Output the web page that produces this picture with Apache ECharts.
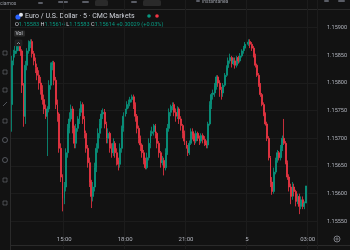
<!DOCTYPE html>
<html><head><meta charset="utf-8">
<script src="https://cdn.jsdelivr.net/npm/echarts@6/dist/echarts.min.js"></script>
<style>html,body{margin:0;padding:0;background:#121212;}#c{width:350px;height:250px;}</style>
</head><body><div id="c"></div>
<script>
const opens = [
1.15761,1.15840,1.15853,1.15858,1.15867,1.15870,1.15858,1.15796,1.15740,1.15832,
1.15858,1.15870,1.15875,1.15853,1.15840,1.15828,1.15814,1.15800,1.15788,1.15770,
1.15753,1.15740,1.15753,1.15796,1.15832,1.15837,1.15805,1.15761,1.15744,1.15682,
1.15630,1.15591,1.15612,1.15674,1.15718,1.15735,1.15753,1.15718,1.15691,1.15718,
1.15735,1.15747,1.15761,1.15735,1.15709,1.15682,1.15656,1.15621,1.15595,1.15612,
1.15647,1.15682,1.15709,1.15726,1.15744,1.15747,1.15726,1.15700,1.15709,1.15682,
1.15674,1.15691,1.15674,1.15660,1.15653,1.15682,1.15718,1.15740,1.15753,1.15761,
1.15765,1.15770,1.15775,1.15761,1.15740,1.15718,1.15700,1.15688,1.15674,1.15660,
1.15647,1.15665,1.15691,1.15709,1.15712,1.15723,1.15709,1.15691,1.15674,1.15656,
1.15660,1.15647,1.15674,1.15718,1.15747,1.15758,1.15761,1.15747,1.15740,1.15753,
1.15735,1.15723,1.15709,1.15695,1.15682,1.15674,1.15691,1.15712,1.15705,1.15695,
1.15709,1.15700,1.15695,1.15705,1.15698,1.15691,1.15688,1.15726,1.15761,1.15779,
1.15782,1.15796,1.15811,1.15800,1.15788,1.15782,1.15796,1.15814,1.15828,1.15840,
1.15846,1.15835,1.15840,1.15832,1.15846,1.15840,1.15849,1.15858,1.15863,1.15870,
1.15874,1.15875,1.15870,1.15863,1.15849,1.15832,1.15814,1.15796,1.15779,1.15761,
1.15744,1.15726,1.15700,1.15665,1.15621,1.15604,1.15639,1.15660,1.15674,1.15665,
1.15682,1.15700,1.15691,1.15656,1.15630,1.15612,1.15595,1.15612,1.15604,1.15586,
1.15595,1.15577,1.15589,1.15577,1.15583
];
const closes = [
1.15840,1.15853,1.15858,1.15867,1.15870,1.15858,1.15796,1.15740,1.15832,1.15858,
1.15870,1.15875,1.15853,1.15840,1.15828,1.15814,1.15800,1.15788,1.15770,1.15753,
1.15740,1.15753,1.15796,1.15832,1.15837,1.15805,1.15761,1.15744,1.15682,1.15630,
1.15591,1.15612,1.15674,1.15718,1.15735,1.15753,1.15718,1.15691,1.15718,1.15735,
1.15747,1.15761,1.15735,1.15709,1.15682,1.15656,1.15621,1.15595,1.15612,1.15647,
1.15682,1.15709,1.15726,1.15744,1.15747,1.15726,1.15700,1.15709,1.15682,1.15674,
1.15691,1.15674,1.15660,1.15653,1.15682,1.15718,1.15740,1.15753,1.15761,1.15765,
1.15770,1.15775,1.15761,1.15740,1.15718,1.15700,1.15688,1.15674,1.15660,1.15647,
1.15665,1.15691,1.15709,1.15712,1.15723,1.15709,1.15691,1.15674,1.15656,1.15660,
1.15647,1.15674,1.15718,1.15747,1.15758,1.15761,1.15747,1.15740,1.15753,1.15735,
1.15723,1.15709,1.15695,1.15682,1.15674,1.15691,1.15712,1.15705,1.15695,1.15709,
1.15700,1.15695,1.15705,1.15698,1.15691,1.15688,1.15726,1.15761,1.15779,1.15782,
1.15796,1.15811,1.15800,1.15788,1.15782,1.15796,1.15814,1.15828,1.15840,1.15846,
1.15835,1.15840,1.15832,1.15846,1.15840,1.15849,1.15858,1.15863,1.15870,1.15874,
1.15875,1.15870,1.15863,1.15849,1.15832,1.15814,1.15796,1.15779,1.15761,1.15744,
1.15726,1.15700,1.15665,1.15621,1.15604,1.15639,1.15660,1.15674,1.15665,1.15682,
1.15700,1.15691,1.15656,1.15630,1.15612,1.15595,1.15612,1.15604,1.15586,1.15595,
1.15577,1.15589,1.15577,1.15583,1.15614
];
const highs = [
1.15849,1.15860,1.15867,1.15874,1.15877,1.15875,1.15861,1.15800,1.15840,1.15863,
1.15877,1.15879,1.15879,1.15858,1.15846,1.15835,1.15823,1.15811,1.15796,1.15779,
1.15761,1.15758,1.15805,1.15837,1.15840,1.15840,1.15811,1.15770,1.15747,1.15691,
1.15635,1.15621,1.15682,1.15726,1.15747,1.15761,1.15758,1.15723,1.15726,1.15740,
1.15754,1.15767,1.15765,1.15740,1.15714,1.15688,1.15665,1.15625,1.15621,1.15656,
1.15691,1.15718,1.15735,1.15751,1.15754,1.15753,1.15730,1.15718,1.15712,1.15691,
1.15700,1.15695,1.15682,1.15665,1.15691,1.15723,1.15747,1.15758,1.15767,1.15770,
1.15775,1.15779,1.15779,1.15765,1.15744,1.15723,1.15705,1.15691,1.15679,1.15665,
1.15674,1.15700,1.15714,1.15721,1.15726,1.15726,1.15712,1.15695,1.15677,1.15668,
1.15665,1.15682,1.15726,1.15754,1.15761,1.15765,1.15765,1.15754,1.15758,1.15756,
1.15740,1.15726,1.15714,1.15700,1.15688,1.15696,1.15718,1.15718,1.15709,1.15714,
1.15712,1.15705,1.15709,1.15709,1.15704,1.15696,1.15730,1.15767,1.15782,1.15788,
1.15800,1.15814,1.15814,1.15805,1.15793,1.15800,1.15818,1.15832,1.15846,1.15853,
1.15849,1.15846,1.15846,1.15849,1.15849,1.15854,1.15861,1.15867,1.15874,1.15877,
1.15879,1.15879,1.15874,1.15867,1.15853,1.15835,1.15818,1.15800,1.15782,1.15765,
1.15747,1.15730,1.15704,1.15668,1.15630,1.15647,1.15665,1.15679,1.15677,1.15688,
1.15705,1.15735,1.15695,1.15660,1.15635,1.15618,1.15621,1.15618,1.15607,1.15600,
1.15600,1.15595,1.15595,1.15586,1.15614
];
const lows = [
1.15712,1.15832,1.15846,1.15853,1.15858,1.15849,1.15782,1.15721,1.15726,1.15823,
1.15853,1.15863,1.15846,1.15832,1.15818,1.15805,1.15788,1.15779,1.15761,1.15744,
1.15735,1.15668,1.15747,1.15788,1.15823,1.15796,1.15753,1.15730,1.15674,1.15621,
1.15568,1.15581,1.15604,1.15665,1.15709,1.15730,1.15709,1.15682,1.15682,1.15712,
1.15726,1.15740,1.15726,1.15700,1.15674,1.15647,1.15612,1.15574,1.15586,1.15604,
1.15639,1.15674,1.15700,1.15718,1.15735,1.15718,1.15691,1.15691,1.15674,1.15665,
1.15668,1.15665,1.15651,1.15642,1.15647,1.15674,1.15712,1.15735,1.15744,1.15754,
1.15758,1.15765,1.15753,1.15730,1.15709,1.15691,1.15677,1.15665,1.15653,1.15644,
1.15644,1.15660,1.15682,1.15704,1.15705,1.15700,1.15682,1.15665,1.15647,1.15651,
1.15633,1.15642,1.15670,1.15712,1.15740,1.15751,1.15740,1.15730,1.15735,1.15726,
1.15714,1.15700,1.15688,1.15677,1.15668,1.15670,1.15688,1.15698,1.15688,1.15691,
1.15695,1.15688,1.15691,1.15691,1.15686,1.15682,1.15682,1.15723,1.15753,1.15770,
1.15775,1.15788,1.15793,1.15775,1.15770,1.15775,1.15793,1.15811,1.15823,1.15835,
1.15828,1.15832,1.15826,1.15828,1.15835,1.15837,1.15846,1.15853,1.15858,1.15867,
1.15867,1.15863,1.15858,1.15846,1.15828,1.15811,1.15793,1.15775,1.15758,1.15740,
1.15723,1.15695,1.15660,1.15612,1.15598,1.15600,1.15635,1.15656,1.15660,1.15660,
1.15677,1.15688,1.15653,1.15625,1.15604,1.15581,1.15589,1.15595,1.15577,1.15581,
1.15563,1.15572,1.15572,1.15572,1.15583
];
const tickTimes = ['15:00','18:00','21:00','00:00','03:00'];
const tickLabels = ['15:00','18:00','21:00','5','03:00'];
const lastPrice = 1.15614;
const titleText = 'Euro / U.S. Dollar · 5 · CMC Markets';

// 5-minute time slots starting 12:25 (axis categories)
const categories = [];
for (let i = 0; i < 181; i++) {
  const m = (12 * 60 + 25 + 5 * i) % 1440;
  categories.push(String(Math.floor(m / 60)).padStart(2, '0') + ':' + String(m % 60).padStart(2, '0'));
}
const data = opens.map((o, i) => [o, closes[i], lows[i], highs[i]]);

const FONT = 'Roboto, "Noto Sans", sans-serif';
const UP = '#089981', DOWN = '#f23645', BG = '#121212', GRID = '#1c1c1c', TXT = '#b2b5be', BORDER = '#2a2a2a';
const showTick = (idx, val) => tickTimes.indexOf(val) >= 0;

const chart = echarts.init(document.getElementById('c'));
const g = [];
// bottom mask over time-scale area
g.push({type:'rect', shape:{x:0,y:232,width:350,height:18}, style:{fill:BG}, z:5, silent:true});
g.push({type:'line', shape:{x1:10,y1:245.5,x2:350,y2:245.5}, style:{stroke:BORDER,lineWidth:1}, z:6});
// top bar and left toolbar
g.push({type:'rect', shape:{x:0,y:0,width:350,height:9}, style:{fill:BG}, z:5});
g.push({type:'line', shape:{x1:0,y1:9.5,x2:350,y2:9.5}, style:{stroke:BORDER,lineWidth:1}, z:6});
g.push({type:'rect', shape:{x:0,y:9,width:10,height:241}, style:{fill:BG}, z:5});
g.push({type:'line', shape:{x1:10.5,y1:9,x2:10.5,y2:250}, style:{stroke:BORDER,lineWidth:1}, z:6});
// top bar icons (partially visible)
[[38,2,5],[58,1,10],[82,1,7],[131,1,6],[196,0,4],[324,0,5],[338,0,7]].forEach(a=>{
  g.push({type:'rect', shape:{x:a[0],y:a[1],width:a[2],height:2,r:1}, style:{fill:'#5a5d66'}, z:7});
});
g.push({type:'rect', shape:{x:95,y:0,width:13,height:6,r:1.5}, style:{fill:'#2a2a2a'}, z:7});
g.push({type:'rect', shape:{x:143,y:0,width:18,height:6,r:1.5}, style:{fill:'#2a2a2a'}, z:7});
g.push({type:'text', style:{text:'ciamos', x:0, y:1, fill:'#9598a1', font:'5px '+FONT}, z:7});
g.push({type:'text', style:{text:'Instantánea', x:202, y:-1, fill:'#9598a1', font:'5px '+FONT}, z:7});
// left toolbar icons
[53,72,90,104,121,140,160,180,203].forEach((y,i)=>{
  if (i===5 || i===6) g.push({type:'circle', shape:{cx:5,cy:y,r:2.5}, style:{fill:'none',stroke:'#6f727b',lineWidth:0.7}, z:7});
  else if (i===3) g.push({type:'line', shape:{x1:3,y1:y+2,x2:7,y2:y-2}, style:{stroke:'#6f727b',lineWidth:0.7}, z:7});
  else g.push({type:'rect', shape:{x:3,y:y-2,width:4,height:4}, style:{fill:'none',stroke:'#6f727b',lineWidth:0.6}, z:7});
});
// symbol title
g.push({type:'circle', shape:{cx:18,cy:17,r:2.6}, style:{fill:'#2962ff'}, z:7});
g.push({type:'circle', shape:{cx:21,cy:14.8,r:2}, style:{fill:'#e0e3eb'}, z:7});
g.push({type:'text', style:{text:titleText, x:25, y:16, verticalAlign:'middle', fill:'#d1d4dc', font:'7px '+FONT}, z:7});
g.push({type:'circle', shape:{cx:149,cy:16,r:1.8}, style:{fill:UP}, z:7});
g.push({type:'circle', shape:{cx:157,cy:16,r:1.8}, style:{fill:DOWN}, z:7});
// OHLC legend
g.push({type:'text', style:{
  text:'{l|O}{v|1.15583} {l|H}{v|1.15614} {l|L}{v|1.15583} {l|C}{v|1.15614} {v|+0.00029 (+0.03%)}',
  x:15, y:25, verticalAlign:'middle', font:'5.6px '+FONT,
  rich:{l:{fill:'#d1d4dc', fontSize:5.6, fontFamily:FONT}, v:{fill:UP, fontSize:5.6, fontFamily:FONT}}}, z:7});
// Vol label
g.push({type:'rect', shape:{x:14,y:30.5,width:11,height:6,r:1}, style:{fill:'#2a2a2a'}, z:7});
g.push({type:'text', style:{text:'Vol', x:15.5, y:33.5, verticalAlign:'middle', fill:'#d1d4dc', font:'5px '+FONT}, z:8});
g.push({type:'rect', shape:{x:15,y:40,width:7,height:6,r:1}, style:{fill:'#1e1e1e',stroke:'#2e2e2e',lineWidth:0.5}, z:7});
g.push({type:'polyline', shape:{points:[[17,44],[18.5,42.5],[20,44]]}, style:{stroke:'#b2b5be',lineWidth:0.7,fill:'none'}, z:8});
// gear icon
g.push({type:'circle', shape:{cx:337,cy:239,r:3}, style:{fill:'none',stroke:'#9598a1',lineWidth:0.8}, z:8});
g.push({type:'circle', shape:{cx:337,cy:239,r:1.1}, style:{fill:'none',stroke:'#9598a1',lineWidth:0.7}, z:8});

chart.setOption({
  backgroundColor: BG,
  animation: false,
  grid: {left: 11, right: 32, top: -7.5, bottom: 1},
  xAxis: {
    type: 'category', data: categories, boundaryGap: true, offset: -18, z: 20,
    axisLine: {show: false}, axisTick: {show: false},
    axisLabel: {interval: showTick, formatter: v => tickLabels[tickTimes.indexOf(v)], color: TXT, fontSize: 6, fontFamily: FONT, margin: 5},
    splitLine: {show: true, interval: showTick, lineStyle: {color: GRID, width: 1}}
  },
  yAxis: {
    type: 'value', position: 'right', min: 1.1550, max: 1.1595, interval: 0.0005, scale: true,
    axisLine: {show: false}, axisTick: {show: false},
    axisLabel: {formatter: v => v.toFixed(5), color: TXT, fontSize: 5.5, fontFamily: FONT, margin: 10, showMinLabel: false, showMaxLabel: false},
    splitLine: {show: true, lineStyle: {color: GRID, width: 1}}
  },
  graphic: g,
  series: [{
    type: 'candlestick', data: data, barWidth: 1.4,
    itemStyle: {color: UP, color0: DOWN, borderColor: UP, borderColor0: DOWN, borderWidth: 0.8},
    markLine: {
      silent: true, symbol: 'none', animation: false,
      data: [{yAxis: lastPrice}],
      lineStyle: {color: UP, type: 'dotted', width: 0.8, opacity: 0.6},
      label: {position: 'end', formatter: lastPrice.toFixed(5), backgroundColor: UP, color: '#ffffff', fontSize: 5.5, fontFamily: FONT, padding: [1.5, 3, 1.5, 3], distance: 5}
    }
  }]
});
</script>
</body></html>
